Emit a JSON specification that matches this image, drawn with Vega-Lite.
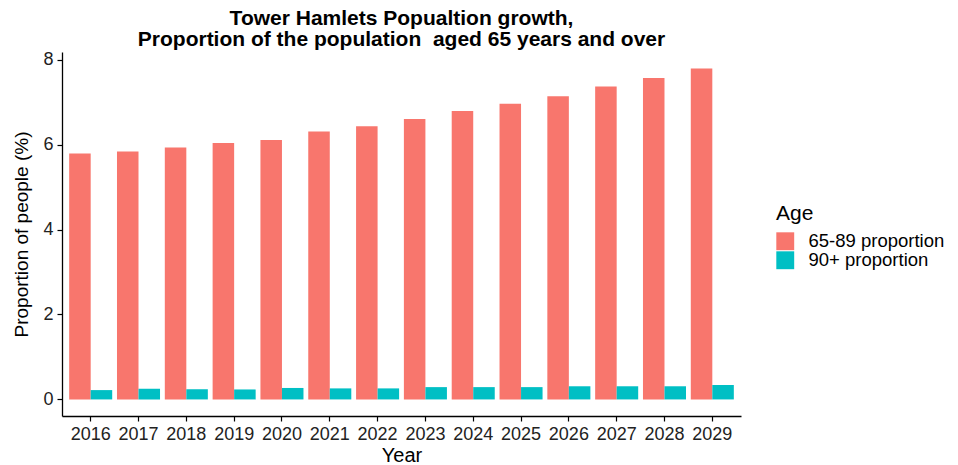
{
  "$schema": "https://vega.github.io/schema/vega-lite/v6.json",
  "autosize": {"type": "none"},
  "padding": {"left": 62, "top": 52, "right": 217, "bottom": 49},
  "width": 679,
  "height": 364,
  "background": "white",
  "title": {
    "text": ["Tower Hamlets Popualtion growth,", "Proportion of the population \u00a0aged 65 years and over"],
    "anchor": "middle",
    "frame": "group",
    "font": "Liberation Sans",
    "fontSize": 21,
    "fontWeight": "bold",
    "color": "black",
    "lineHeight": 21,
    "offset": 1
  },
  "data": {
    "values": [
      {"Year": "2016", "Age": "65-89 proportion", "value": 5.79},
      {"Year": "2017", "Age": "65-89 proportion", "value": 5.84},
      {"Year": "2018", "Age": "65-89 proportion", "value": 5.93},
      {"Year": "2019", "Age": "65-89 proportion", "value": 6.04},
      {"Year": "2020", "Age": "65-89 proportion", "value": 6.11},
      {"Year": "2021", "Age": "65-89 proportion", "value": 6.31},
      {"Year": "2022", "Age": "65-89 proportion", "value": 6.43},
      {"Year": "2023", "Age": "65-89 proportion", "value": 6.60},
      {"Year": "2024", "Age": "65-89 proportion", "value": 6.79},
      {"Year": "2025", "Age": "65-89 proportion", "value": 6.96},
      {"Year": "2026", "Age": "65-89 proportion", "value": 7.14},
      {"Year": "2027", "Age": "65-89 proportion", "value": 7.37},
      {"Year": "2028", "Age": "65-89 proportion", "value": 7.57},
      {"Year": "2029", "Age": "65-89 proportion", "value": 7.79},
      {"Year": "2016", "Age": "90+ proportion", "value": 0.22},
      {"Year": "2017", "Age": "90+ proportion", "value": 0.25},
      {"Year": "2018", "Age": "90+ proportion", "value": 0.24},
      {"Year": "2019", "Age": "90+ proportion", "value": 0.235},
      {"Year": "2020", "Age": "90+ proportion", "value": 0.27},
      {"Year": "2021", "Age": "90+ proportion", "value": 0.26},
      {"Year": "2022", "Age": "90+ proportion", "value": 0.26},
      {"Year": "2023", "Age": "90+ proportion", "value": 0.29},
      {"Year": "2024", "Age": "90+ proportion", "value": 0.29},
      {"Year": "2025", "Age": "90+ proportion", "value": 0.29},
      {"Year": "2026", "Age": "90+ proportion", "value": 0.31},
      {"Year": "2027", "Age": "90+ proportion", "value": 0.31},
      {"Year": "2028", "Age": "90+ proportion", "value": 0.31},
      {"Year": "2029", "Age": "90+ proportion", "value": 0.34}
    ]
  },
  "mark": {"type": "bar"},
  "encoding": {
    "x": {
      "field": "Year",
      "type": "nominal",
      "scale": {"paddingInner": 0.1, "paddingOuter": 0.15},
      "axis": {
        "title": "Year",
        "labelAngle": 0,
        "labelFont": "Liberation Sans",
        "labelFontSize": 18,
        "labelColor": "#222222",
        "labelPadding": 4,
        "titleFont": "Liberation Sans",
        "titleFontSize": 20,
        "titleFontWeight": "normal",
        "titleColor": "black",
        "titlePadding": 2,
        "domainColor": "black",
        "domainWidth": 1.3,
        "tickColor": "black",
        "tickWidth": 1.2,
        "tickSize": 5,
        "grid": false
      }
    },
    "xOffset": {
      "field": "Age",
      "type": "nominal",
      "scale": {"paddingInner": 0, "paddingOuter": 0}
    },
    "y": {
      "field": "value",
      "type": "quantitative",
      "scale": {"domain": [-0.39, 8.18], "nice": false, "zero": false},
      "axis": {
        "title": "Proportion of people (%)",
        "values": [0, 2, 4, 6, 8],
        "labelFont": "Liberation Sans",
        "labelFontSize": 18,
        "labelColor": "#222222",
        "labelPadding": 4,
        "titleFont": "Liberation Sans",
        "titleFontSize": 19,
        "titleFontWeight": "normal",
        "titleColor": "black",
        "titlePadding": 11,
        "domainColor": "black",
        "domainWidth": 1.3,
        "tickColor": "black",
        "tickWidth": 1.2,
        "tickSize": 5,
        "grid": false
      }
    },
    "y2": {"datum": 0},
    "color": {
      "field": "Age",
      "type": "nominal",
      "scale": {"domain": ["65-89 proportion", "90+ proportion"], "range": ["#F8766D", "#00BFC4"]},
      "legend": {
        "title": "Age",
        "orient": "none",
        "legendX": 714,
        "legendY": 151,
        "titleFont": "Liberation Sans",
        "titleFontSize": 21,
        "titleFontWeight": "normal",
        "titleColor": "black",
        "titlePadding": 8,
        "labelFont": "Liberation Sans",
        "labelFontSize": 18.5,
        "labelColor": "black",
        "labelOffset": 14,
        "symbolType": "square",
        "symbolSize": 320,
        "symbolStrokeWidth": 0,
        "symbolOpacity": 1,
        "rowPadding": 0
      }
    }
  },
  "config": {"view": {"stroke": null}}
}
